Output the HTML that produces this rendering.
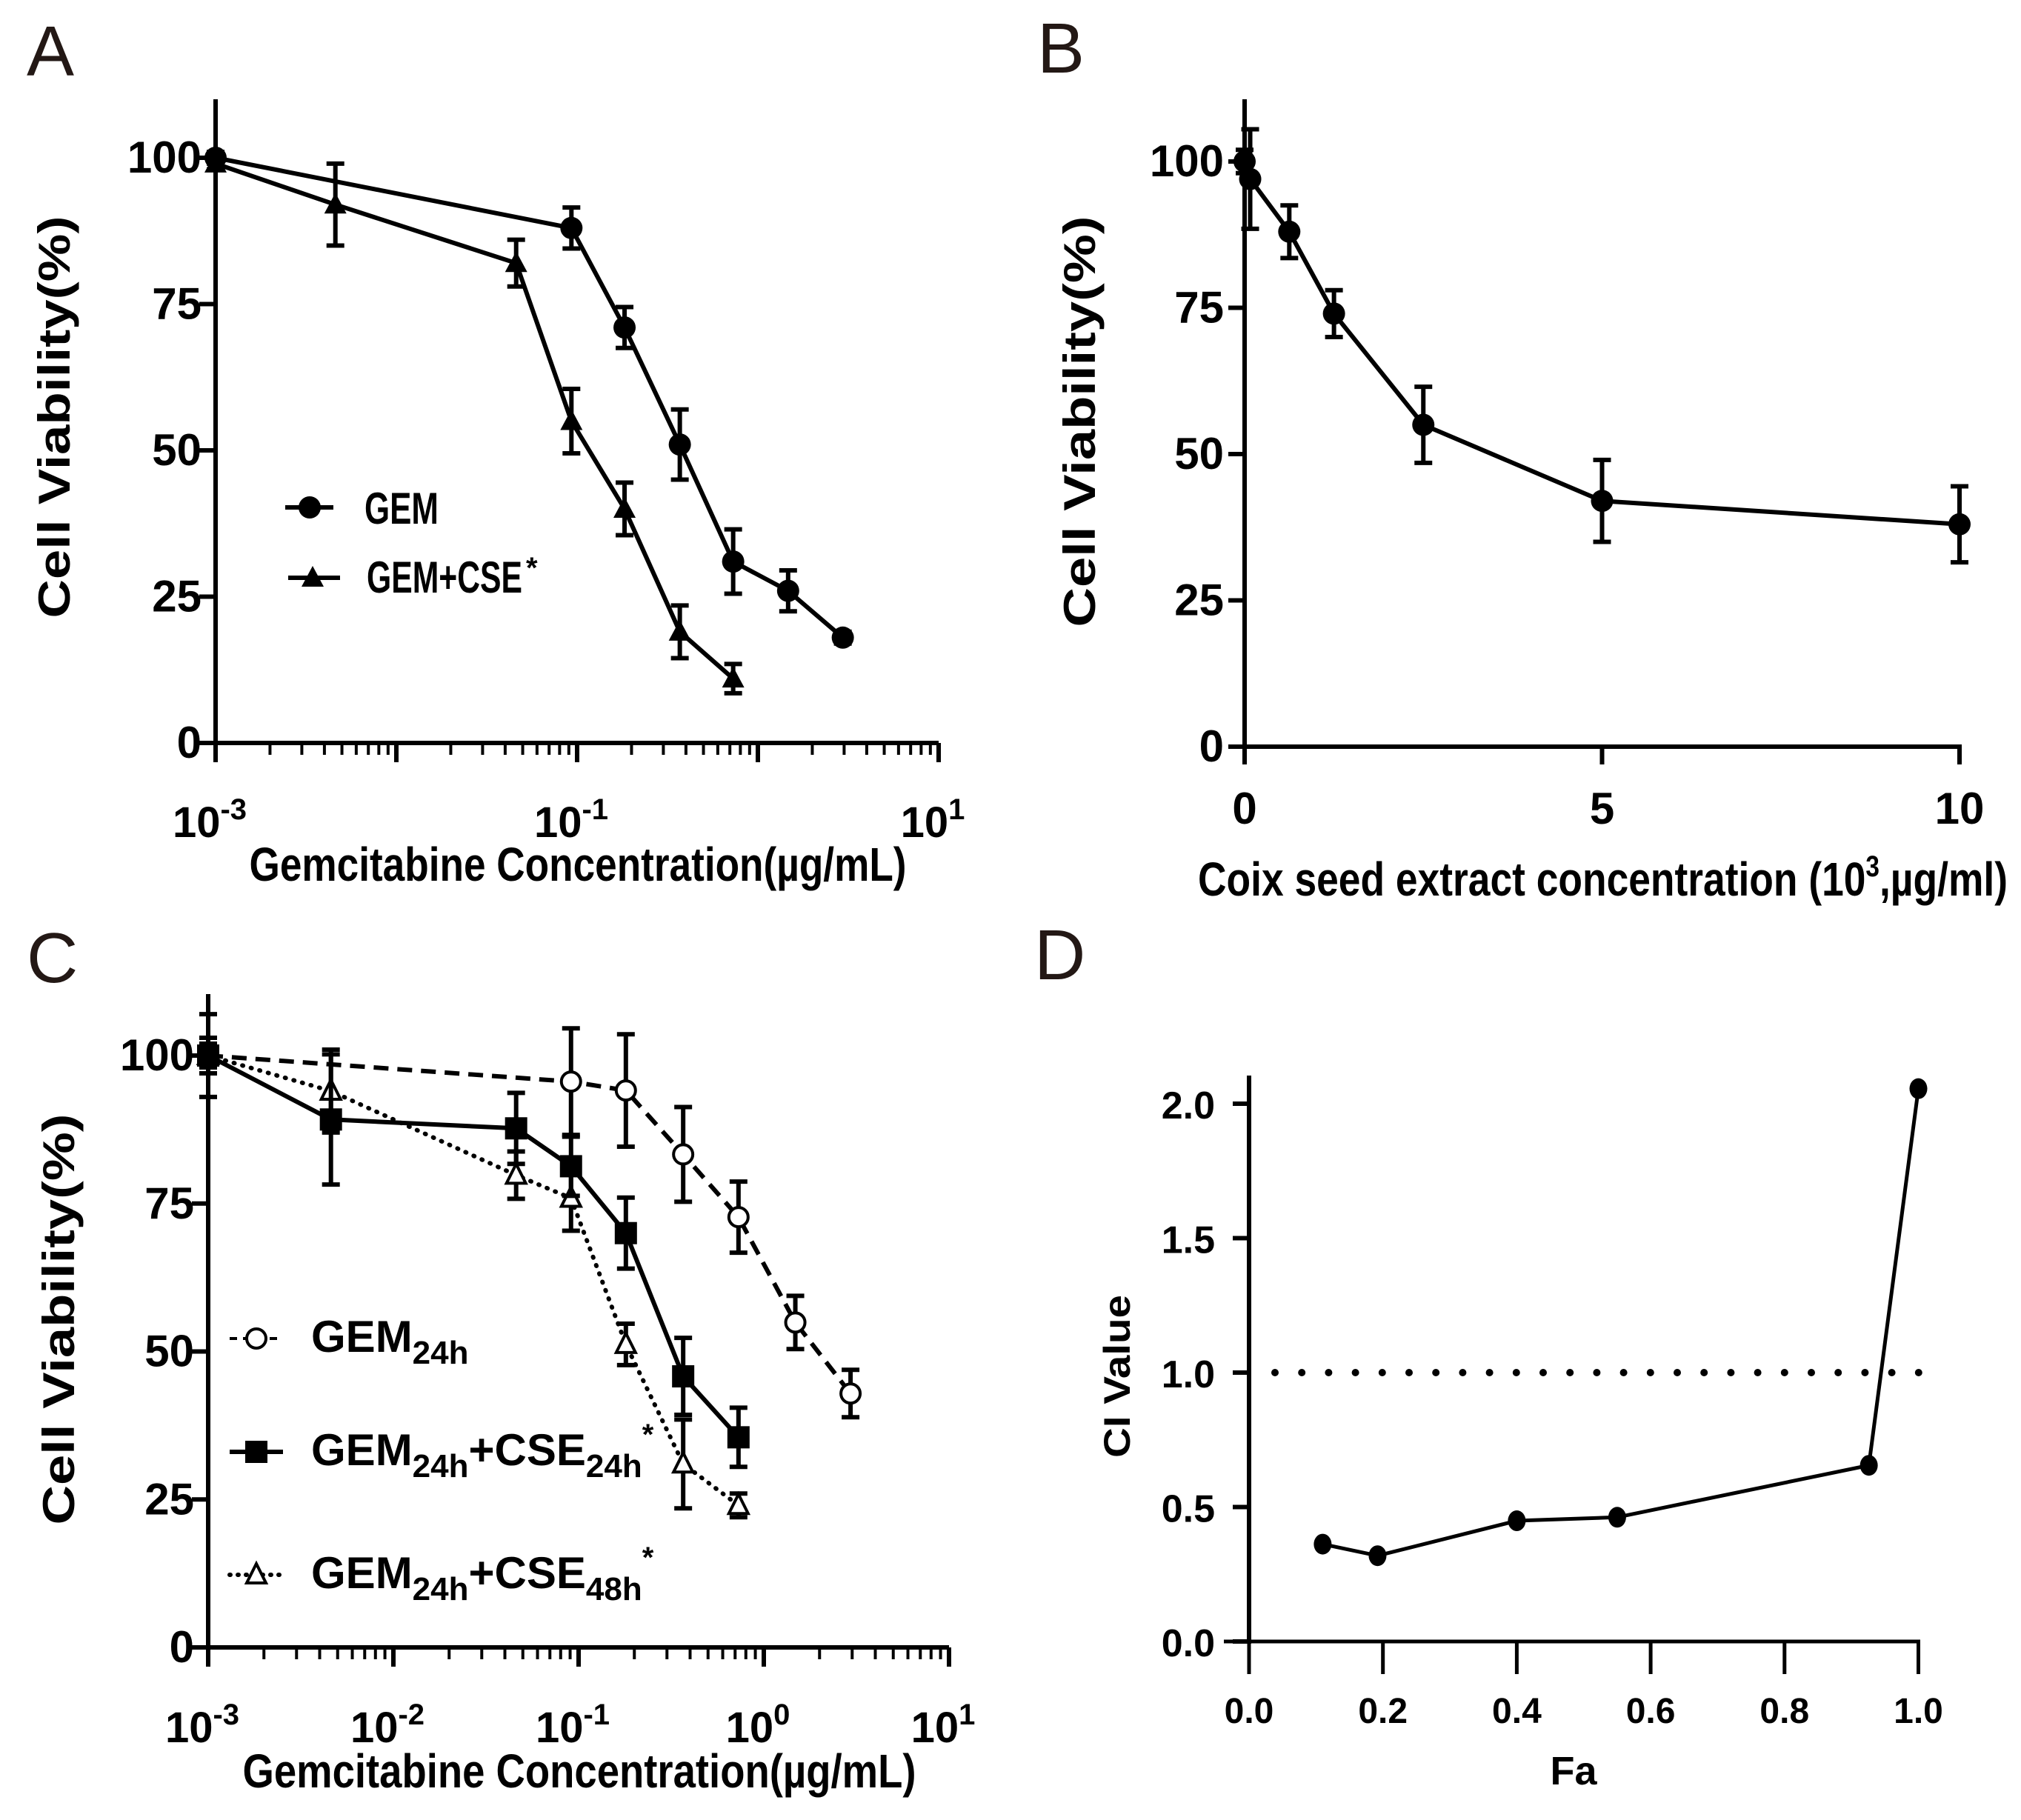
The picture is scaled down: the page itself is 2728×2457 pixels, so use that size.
<!DOCTYPE html>
<html><head><meta charset="utf-8"><style>
html,body{margin:0;padding:0;background:#fff;}
svg{display:block;font-family:"Liberation Sans",sans-serif;}
</style></head><body>
<svg id="fig" width="2728" height="2457" viewBox="0 0 2728 2457" xmlns="http://www.w3.org/2000/svg">
<rect width="2728" height="2457" fill="#fff"/>
<g fill="#231815" font-size="96">
<text x="36" y="102">A</text>
<text x="1400" y="98">B</text>
<text x="36" y="1326">C</text>
<text x="1396" y="1322">D</text>
</g>
<g id="gA"></g>
<g id="gB"></g>
<g id="gC"></g>
<g id="gD"></g>
</svg>
<script>
// ---- Panel A data ----
const aGemX=[0.001,0.093,0.183,0.37,0.73,1.47,2.95];
const aGemY=[100,88,71,51,31,26,18];
const aGemErr=[1,3.5,3.5,6,5.5,3.5,1];
const aCseX=[0.001,0.0046,0.046,0.093,0.183,0.37,0.73];
const aCseY=[99,92,82,55,40,19,11];
const aCseErr=[1,7,4,5.5,4.5,4.5,2.5];
const yTicksPct=[0,25,50,75,100];
const logDecades=[-3,-2,-1,0,1];
const aLabelDecades=[-3,-1,1];
// ---- Panel B data ----
const bX=[0,0.078,0.625,1.25,2.5,5,10];
const bY=[100,97,88,74,55,42,38];
const bErr=[2,8.5,4.5,4,6.5,7,6.5];
const bXTicks=[0,5,10];
// ---- Panel C data ----
const cGemX=[0.001,0.091,0.18,0.367,0.73,1.48,2.94];
const cGemY=[100,95.6,94.1,83.3,72.7,54.9,42.9];
const cGemErr=[3,9,9.5,8,6,4.5,4];
const cSqX=[0.001,0.0046,0.046,0.091,0.18,0.367,0.73];
const cSqY=[100,89.2,87.7,81.3,70,45.8,35.5];
const cSqErr=[7,11,6,5,6,6.5,5];
const cTriX=[0.001,0.0046,0.046,0.091,0.18,0.367,0.73];
const cTriY=[100,94,79.8,75.9,51.2,31,24];
const cTriErr=[2,7,4,5.5,3.5,7.5,2];
// ---- Panel D data ----
const dFa=[0.11,0.192,0.4,0.55,0.926,1.0];
const dCI=[0.362,0.319,0.449,0.462,0.655,2.056];
const dXTicks=[0,0.2,0.4,0.6,0.8,1.0];
const dYTicks=[0,0.5,1.0,1.5,2.0];

const NS="http://www.w3.org/2000/svg";
function mk(parent,tag,attrs,text){const e=document.createElementNS(NS,tag);for(const k in attrs)e.setAttribute(k,attrs[k]);if(text!==undefined)e.textContent=text;parent.appendChild(e);return e;}

const xA=v=>291+(Math.log10(v)+3)*244, yA=v=>1003-v*7.9;
const xB=v=>1680+v*96.5, yB=v=>1008-v*7.9;
const xC=v=>281+(Math.log10(v)+3)*250, yC=v=>2224-v*7.99;
const xD=v=>1686+v*903.5, yD=v=>2216-v*363;

function yAxis(g,x0,yTop,yBot,ticks,ys,fmt,labX,fs){
  const ax=mk(g,'line',{x1:x0,y1:yTop,x2:x0,y2:yBot,stroke:'#000','stroke-width':6});
  
  
  ticks.forEach(t=>{
    const tk=mk(g,'line',{x1:x0-22,y1:ys(t),x2:x0,y2:ys(t),stroke:'#000','stroke-width':6});
    
    
    const tl=mk(g,'text',{x:labX,y:ys(t)+20,'text-anchor':'end','font-size':fs,'font-weight':'bold'},fmt(t));
    
    
  });
}
function logXAxis(g,xs,y0,xLeft,xRight,labY,labels){
  const ax=mk(g,'line',{x1:xLeft,y1:y0,x2:xRight,y2:y0,stroke:'#000','stroke-width':6});
  
  
  logDecades.forEach((d,i)=>{
    const x=xs(Math.pow(10,d));
    const tk=mk(g,'line',{x1:x,y1:y0,x2:x,y2:y0+26,stroke:'#000','stroke-width':6});
    
    
    if(labels.indexOf(d)>=0){
      const t=mk(g,'text',{x:x-8,y:labY,'text-anchor':'middle','font-size':58,'font-weight':'bold'});
      
      
      mk(t,'tspan',{},'10');
      mk(t,'tspan',{dy:-24,'font-size':40},String(d));
    }
    if(i<logDecades.length-1){for(let m=2;m<=9;m++){const xm=xs(m*Math.pow(10,d));
      const mt=mk(g,'line',{x1:xm,y1:y0,x2:xm,y2:y0+16,stroke:'#000','stroke-width':4});
      
      }}
  });
}
function marker(g,type,x,y,name){
  let e;
  if(type==='circle') e=mk(g,'circle',{cx:x,cy:y,r:15,fill:'#000'});
  else if(type==='ocircle') e=mk(g,'circle',{cx:x,cy:y,r:13,fill:'#fff',stroke:'#000','stroke-width':4});
  else if(type==='square') e=mk(g,'rect',{x:x-15,y:y-15,width:30,height:30,fill:'#000'});
  else if(type==='tri') e=mk(g,'polygon',{points:`${x},${y-16} ${x-15},${y+12} ${x+15},${y+12}`,fill:'#000'});
  else e=mk(g,'polygon',{points:`${x},${y-15} ${x-13},${y+11} ${x+13},${y+11}`,fill:'#fff',stroke:'#000','stroke-width':4});
  
  
}
function series(g,X,Y,E,xs,ys,type,dash,name){
  const pts=X.map((v,i)=>xs(v)+','+ys(Y[i])).join(' ');
  const attrs={points:pts,fill:'none',stroke:'#000','stroke-width':6,'stroke-linejoin':'round'};
  if(dash==='dash') attrs['stroke-dasharray']='20 12';
  if(dash==='dot'){attrs['stroke-dasharray']='1 11';attrs['stroke-linecap']='round';attrs['stroke-width']=6;}
  const l=mk(g,'polyline',attrs);
  
  
  X.forEach((v,i)=>{
    const x=xs(v),t=ys(Y[i]+E[i]),b=ys(Y[i]-E[i]);
    const p=mk(g,'path',{d:`M${x},${t}V${b}M${x-12},${t}H${x+12}M${x-12},${b}H${x+12}`,stroke:'#000','stroke-width':6,fill:'none'});
    
    
    marker(g,type,x,ys(Y[i]),name+'-point');
  });
}
function label(g,txt,x,y,fs,len,rot,name){
  const a={x:x,y:y,'text-anchor':'middle','font-size':fs,'font-weight':'bold'};
  if(len){a.textLength=len;a.lengthAdjust='spacingAndGlyphs';}
  if(rot) a.transform=`rotate(-90 ${x} ${y})`;
  const t=mk(g,'text',a,txt);
  
  
  return t;
}

// Panel A
const gA=document.getElementById('gA');
yAxis(gA,291,134,1006,yTicksPct,yA,String,272,60);
logXAxis(gA,xA,1003,288,1267,1130,aLabelDecades);
series(gA,aGemX,aGemY,aGemErr,xA,yA,'circle','solid','gem');
series(gA,aCseX,aCseY,aCseErr,xA,yA,'tri','solid','gem-cse');
label(gA,'Cell  Viability(%)',94,563,60,543,true,'y-axis-title');
label(gA,'Gemcitabine Concentration(µg/mL)',780,1189,64,887,false,'x-axis-title');
mk(gA,'line',{x1:385,y1:685,x2:450,y2:685,stroke:'#000','stroke-width':6});
marker(gA,'circle',418,685,'legend-gem-marker');
label(gA,'GEM',542,707,60,100,false,'legend-gem');
mk(gA,'line',{x1:389,y1:780,x2:459,y2:780,stroke:'#000','stroke-width':6});
marker(gA,'tri',422,780,'legend-gem-cse-marker');
label(gA,'GEM+CSE',600,800,60,210,false,'legend-gem-cse');
mk(gA,'text',{x:710,y:780,'font-size':40,'font-weight':'bold'},'*');

// Panel B
const gB=document.getElementById('gB');
yAxis(gB,1680,134,1011,yTicksPct,yB,String,1652,60);
const bx=mk(gB,'line',{x1:1677,y1:1008,x2:2648,y2:1008,stroke:'#000','stroke-width':6});


bXTicks.forEach(t=>{
  const tk=mk(gB,'line',{x1:xB(t),y1:1008,x2:xB(t),y2:1032,stroke:'#000','stroke-width':6});
  
  
  label(gB,String(t),xB(t),1112,60,null,false,'x-tick-label');
});
series(gB,bX,bY,bErr,xB,yB,'circle','solid','cse');
label(gB,'Cell  Viability(%)',1478,569,60,555,true,'y-axis-title');
const bt=mk(gB,'text',{x:1617,y:1209,'font-size':64,'font-weight':'bold',textLength:1093,lengthAdjust:'spacingAndGlyphs'});


mk(bt,'tspan',{},'Coix seed extract concentration (10');
mk(bt,'tspan',{dy:-26,'font-size':40},'3');
mk(bt,'tspan',{dy:26},',µg/ml)');

// Panel C
const gC=document.getElementById('gC');
yAxis(gC,281,1342,2227,yTicksPct,yC,String,262,60);
logXAxis(gC,xC,2224,278,1281,2352,logDecades);
series(gC,cGemX,cGemY,cGemErr,xC,yC,'ocircle','dash','gem24h');
series(gC,cTriX,cTriY,cTriErr,xC,yC,'otri','dot','gem24h-cse48h');
series(gC,cSqX,cSqY,cSqErr,xC,yC,'square','solid','gem24h-cse24h');
label(gC,'Cell  Viability(%)',100,1781,60,555,true,'y-axis-title');
label(gC,'Gemcitabine Concentration(µg/mL)',782,2413,64,909,false,'x-axis-title');
function legC(y,type,dash,sub2,name){
  const a={x1:310,y1:y,x2:382,y2:y,stroke:'#000','stroke-width':dash==='solid'?6:4};
  if(dash==='dash')a['stroke-dasharray']='10 8';
  if(dash==='dot'){a['stroke-dasharray']='1 10';a['stroke-linecap']='round';a['stroke-width']=6;}
  mk(gC,'line',a);
  marker(gC,type,346,y,name+'-marker');
  const t=mk(gC,'text',{x:420,y:y+18,'font-size':60,'font-weight':'bold'});
  
  
  mk(t,'tspan',{},'GEM');mk(t,'tspan',{dy:16,'font-size':44},'24h');
  if(sub2){mk(t,'tspan',{dy:-16},'+CSE');mk(t,'tspan',{dy:16,'font-size':44},sub2);mk(t,'tspan',{dy:-44,'font-size':40},'*');}
}
legC(1807,'ocircle','dash',null,'legend-gem24h');
legC(1960,'square','solid','24h','legend-gem24h-cse24h');
legC(2126,'otri','dot','48h','legend-gem24h-cse48h');

// Panel D
const gD=document.getElementById('gD');
yAxis(gD,1686,1452,2219,dYTicks,yD,v=>v.toFixed(1),1640,52);
const dx=mk(gD,'line',{x1:1652,y1:2216,x2:2592,y2:2216,stroke:'#000','stroke-width':5});


dXTicks.forEach(t=>{
  const tk=mk(gD,'line',{x1:xD(t),y1:2216,x2:xD(t),y2:2260,stroke:'#000','stroke-width':5});
  
  
  label(gD,t.toFixed(1),xD(t),2326,48,null,false,'x-tick-label');
});
for(let x=1721;x<=2592;x+=36.2){
  const c=mk(gD,'circle',{cx:x,cy:yD(1.0),r:5,fill:'#000'});
  
  
}
const dl=mk(gD,'polyline',{points:dFa.map((v,i)=>xD(v)+','+yD(dCI[i])).join(' '),fill:'none',stroke:'#000','stroke-width':5});


dFa.forEach((v,i)=>{
  const c=mk(gD,'ellipse',{cx:xD(v),cy:yD(dCI[i]),rx:12,ry:14,fill:'#000'});
  
  
});
label(gD,'CI Value',1525,1858,50,220,true,'y-axis-title');
label(gD,'Fa',2124,2409,54,null,false,'x-axis-title');
</script>
</body></html>
